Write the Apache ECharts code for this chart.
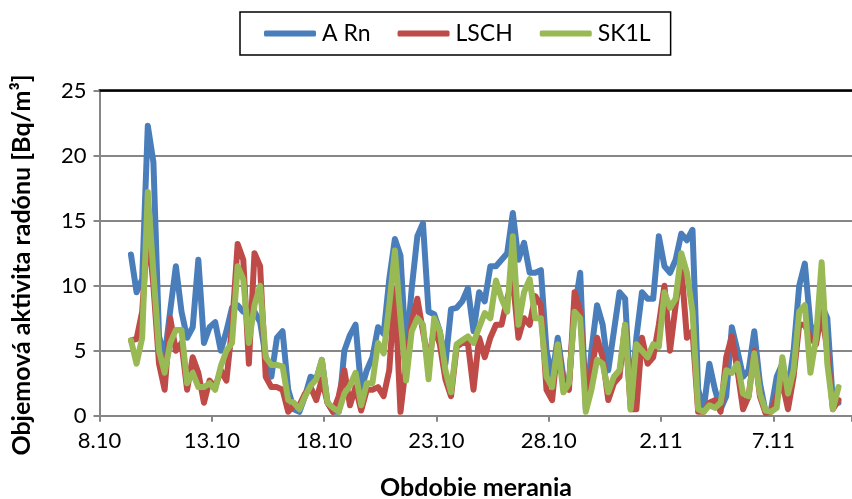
<!DOCTYPE html>
<html><head><meta charset="utf-8">
<script src="https://cdn.jsdelivr.net/npm/echarts@6/dist/echarts.min.js"></script>
<style>html,body{margin:0;padding:0;background:#fff}#c{width:852px;height:499px}</style>
</head><body><div id="c"></div>
<script>
const seriesNames = ['A Rn', 'LSCH', 'SK1L'];
const xTickLabels = ['8.10', '13.10', '18.10', '23.10', '28.10', '2.11', '7.11'];
const yTickLabels = ['0', '5', '10', '15', '20', '25'];
const xTitle = 'Obdobie merania';
const yTitle = 'Objemová aktivita radónu [Bq/m³]';
// samples every 6 hours, first sample ~1.4 days after 8.10
const startDay = 1.4;
const stepDay = 0.25;
const aRn = [12.4,9.5,10.5,22.3,19.5,6.1,4.5,8.1,11.5,8,6,6.8,12,5.6,6.8,7.2,5,6.5,8.3,8.5,8,8,8,7.2,4.5,3,6,6.5,2,0.5,0.3,1.5,3,2.8,4.3,1,0.3,0.3,5,6.2,7,2,3.5,4.5,6.8,6.3,10.5,13.6,12.3,4.7,9.8,13.8,14.8,8,7.8,6.5,4,8.2,8.3,8.8,9.8,6.5,9.5,8.8,11.5,11.5,12,12.5,15.6,12,13.3,11,11,11.2,5,3,6,3,2.5,8.2,11,0.5,5,8.5,7,3.5,6.5,9.5,9,1,6,9.5,9,9,13.8,11.5,11,12,14,13.5,14.3,2,0.5,4,2,0.5,1.5,6.8,5,3,3.5,6.5,2.5,0.3,0.5,3,4,2,5,10,11.7,7,6,8.5,7.5,1,1];
const lsch = [5.8,5.9,8,14.5,10,4,2,7.5,5,5.6,2,4.5,3.3,1,2.7,2.2,3.5,2.7,6.8,13.2,12,4,12.5,11.5,3,2.2,2.2,2,0.3,0.8,0.8,1.7,2.2,1.2,2.8,1,0.3,1.5,3.5,0.8,2.2,0.4,2,2,2.2,1.5,3.5,9.7,0.3,4,7.2,9,6.5,4,6.8,5.5,2.8,1.5,5.3,5.6,5.6,2,6,4.5,6,7,7,9,10.5,6,7.5,7,9.2,8.5,2,1.2,5.5,2.5,2,9.5,8,1.5,3.5,6,4.5,1.2,2.5,3,7,0.5,0.5,6,4,4.5,7,10,5,8.5,11.5,6,6.5,0.3,0.3,1,1.2,0.3,4.5,6.1,3.5,0.5,1.5,5,1.5,0.2,0.3,1.5,2.5,0.5,3,7,7,6,5.5,8,5,0.5,1.2];
const sk1l = [5.8,4,6,17.2,11,5,3.3,5.6,6.6,6.6,2.5,3.3,2.2,2.2,2.5,2,3.8,5,5.6,11.5,10.5,5.6,8.5,10,4.5,3.9,3.9,3.8,1.2,1,0.5,1.5,2.3,2.8,4.3,1,0.6,0.3,1.7,2.3,3.3,0.8,2.5,2.5,5.6,4.8,8.5,12.7,7.5,2.7,6.5,7.5,7,2.8,7.5,6.5,3.5,1.8,5.5,5.8,6.1,5.6,6.8,7.9,7.5,10.4,9,8,13.8,7,9.5,10.5,7.5,7.5,3,2.2,5.5,1.8,2.5,8,7.5,0.3,2,4.3,4,1.8,3,3.5,7,0.5,5.5,5,4.5,5.5,5.3,9.5,8.3,9,12.5,11,8,0.5,0.3,0.8,0.6,1,3.5,3.3,4,1.7,1.5,4.8,1.7,0.4,0.3,0.6,4.5,1.7,3.5,8,8.5,3.3,6,11.8,4,0.5,2.2];
const colors = ['#4A7EBB', '#BE4B48', '#98B954'];

const toPts = arr => arr.map((v, i) => [startDay + i * stepDay, v]);
const font = 'Lato, "Liberation Sans", sans-serif';
const chart = echarts.init(document.getElementById('c'), null, {renderer: 'canvas'});
chart.setOption({
  animation: false,
  backgroundColor: '#fff',
  grid: {left: 99.5, right: 0, top: 90.7, bottom: 83.3, containLabel: false, outerBoundsMode: 'none'},
  legend: {
    data: seriesNames,
    left: 240, top: 12,
    padding: [10, 20, 10, 24],
    borderColor: '#000', borderWidth: 1.5,
    itemWidth: 52, itemHeight: 6, itemGap: 27,
    icon: 'roundRect',
    textStyle: {fontFamily: font, fontSize: 23, color: '#000', padding: [0, 0, 0, 1]}
  },
  graphic: [
    {type: 'text', x: 476, y: 488,
      style: {text: xTitle, font: 'bold 25px ' + font, fill: '#000', align: 'center', verticalAlign: 'middle'}, z: 10},
    {type: 'text', x: 22, y: 265, rotation: Math.PI / 2,
      style: {text: yTitle, font: 'bold 25px ' + font, fill: '#000', align: 'center', verticalAlign: 'middle'}, z: 10}
  ],
  xAxis: [{
    type: 'value', min: 0, max: 33.5, interval: 5,
    axisLine: {show: true, lineStyle: {color: '#868686', width: 2}},
    axisTick: {show: true, length: 6, lineStyle: {color: '#868686', width: 2}},
    axisLabel: {fontFamily: font, fontSize: 22, color: '#000', margin: 14,
      formatter: v => (Math.abs(v / 5 - Math.round(v / 5)) < 1e-6 ? (xTickLabels[Math.round(v / 5)] || '') : '')},
    splitLine: {show: false}
  }, {
    type: 'value', min: 0, max: 33.5, position: 'top',
    axisLine: {show: true, lineStyle: {color: '#000', width: 2.5}},
    axisTick: {show: false}, axisLabel: {show: false}, splitLine: {show: false}
  }],
  yAxis: {
    type: 'value', min: 0, max: 25, interval: 5,
    axisLine: {show: true, lineStyle: {color: '#868686', width: 2}},
    axisTick: {show: true, length: 6, lineStyle: {color: '#868686', width: 2}},
    axisLabel: {fontFamily: font, fontSize: 22, color: '#000', margin: 13,
      formatter: v => yTickLabels[Math.round(v / 5)] || ''},
    splitLine: {show: true, lineStyle: {color: '#868686', width: 2}}
  },
  series: [aRn, lsch, sk1l].map((arr, k) => ({
    name: seriesNames[k], type: 'line', data: toPts(arr),
    showSymbol: false, symbol: 'none', clip: true,
    color: colors[k],
    lineStyle: {width: 6, color: colors[k], cap: 'round', join: 'round'},
    z: 2 + k
  }))
});
</script></body></html>
